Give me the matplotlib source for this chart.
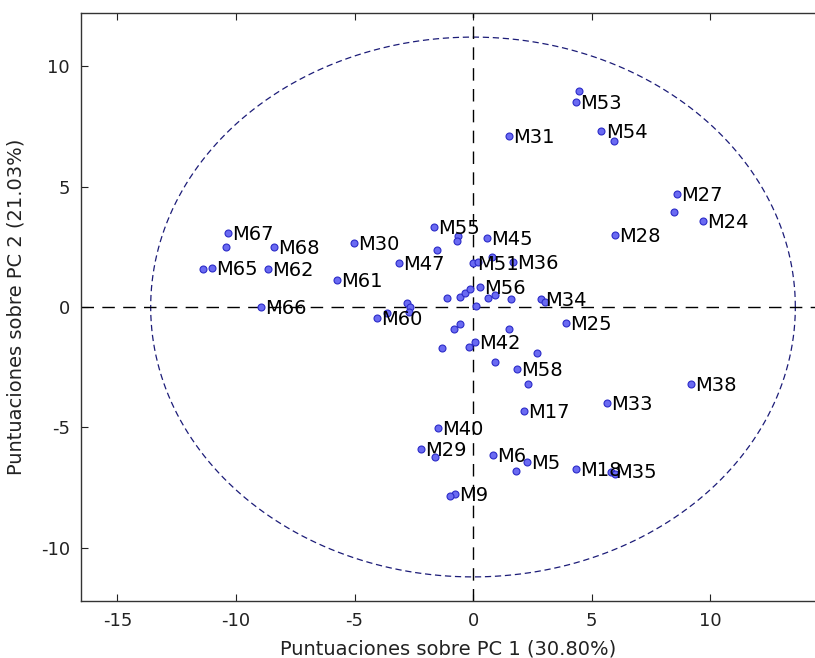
import numpy as np
import matplotlib.pyplot as plt

plt.rcParams['axes.unicode_minus'] = False

# PCA scores (PC1, PC2); '' = point without a label
names = ['M67', '', 'M68', '', 'M65', 'M62', 'M30', 'M61', 'M47', '',
         'M55', '', '', 'M66', '', '', '', 'M60', '', '',
         '', '', '', 'M56', '', '', '', '', 'M34', '',
         'M25', 'M45', '', 'M51', '', 'M36', '', '', '', 'M42',
         '', '', '', '', 'M58', '', 'M17', 'M33', 'M40', 'M29',
         '', 'M6', 'M5', '', 'M18', 'M35', '', 'M9', '', '',
         'M53', 'M31', 'M54', '', 'M27', '', 'M24', 'M28', 'M38']
pc1 = [-10.32, -10.41, -8.40, -11.38, -11.00, -8.66, -5.01, -5.74, -3.12, -1.53,
       -1.65, -0.63, -0.67, -8.96, -2.79, -2.65, -2.72, -4.05, -3.63, -1.11,
       -0.55, -0.34, -0.13, 0.29, 0.64, 0.93, 1.60, 0.11, 2.86, 3.03,
       3.91, 0.58, 0.79, 0.01, 0.22, 1.70, -0.55, -0.80, 1.53, 0.08,
       -0.15, -1.32, 2.68, 0.93, 1.86, 2.30, 2.15, 5.65, -1.46, -2.20,
       -1.60, 0.85, 2.26, 1.80, 4.34, 5.84, 5.98, -0.76, -0.97, 4.47,
       4.33, 1.53, 5.42, 5.93, 8.62, 8.47, 9.69, 6.01, 9.20]
pc2 = [3.06, 2.48, 2.50, 1.56, 1.63, 1.56, 2.64, 1.12, 1.83, 2.37,
       3.32, 2.95, 2.75, 0.00, 0.15, 0.01, -0.20, -0.47, -0.23, 0.36,
       0.40, 0.57, 0.73, 0.84, 0.36, 0.50, 0.32, 0.04, 0.32, 0.22,
       -0.65, 2.85, 2.09, 1.84, 1.87, 1.88, -0.71, -0.93, -0.93, -1.44,
       -1.68, -1.69, -1.92, -2.29, -2.59, -3.21, -4.32, -3.98, -5.01, -5.90,
       -6.21, -6.14, -6.42, -6.79, -6.71, -6.83, -6.91, -7.77, -7.84, 8.98,
       8.52, 7.10, 7.30, 6.90, 4.69, 3.95, 3.58, 2.99, -3.21]

# confidence ellipse semi-axes
ell_a = 13.6
ell_b = 11.2

fig = plt.figure(figsize=(8.15, 6.58), dpi=100)
ax = fig.add_axes([81 / 815, 1 - 601 / 658, 1 - 81 / 815, 588 / 658])
ax.set_xlim(-16.54, 14.43)
ax.set_ylim(-12.2, 12.2)

t = np.linspace(0, 2 * np.pi, 500)
ax.plot(ell_a * np.cos(t), ell_b * np.sin(t), color='#1c1c78', lw=0.9,
        dashes=(5, 3))
ax.axhline(0, color='black', lw=1.0, dashes=(9, 6))
ax.axvline(0, color='black', lw=1.0, dashes=(9, 6))

ax.plot(pc1, pc2, 'o', ls='none', ms=5, mfc='#6a6af2', mec='#2b2bc8', mew=0.8)
for n, x, y in zip(names, pc1, pc2):
    if n:
        ax.annotate(n, (x, y), xytext=(3, -1), textcoords='offset points',
                    va='center', ha='left', fontsize=14, color='black')

ax.set_xticks([-15, -10, -5, 0, 5, 10])
ax.set_yticks([-10, -5, 0, 5, 10])
ax.tick_params(direction='in', length=5, top=True, right=False,
               labelsize=13, pad=8, colors='#222222')
ax.spines['right'].set_visible(False)
for s in ['left', 'top', 'bottom']:
    ax.spines[s].set_linewidth(1.0)
    ax.spines[s].set_color('#333333')

ax.set_xlabel('Puntuaciones sobre PC 1 (30.80%)', fontsize=14, color='#222222')
ax.set_ylabel('Puntuaciones sobre PC 2 (21.03%)', fontsize=14, color='#222222')
ax.xaxis.set_label_coords(0.5, -0.065)
ax.yaxis.set_label_coords(-0.075, 0.5)

fig.savefig('out.png', dpi=100)
